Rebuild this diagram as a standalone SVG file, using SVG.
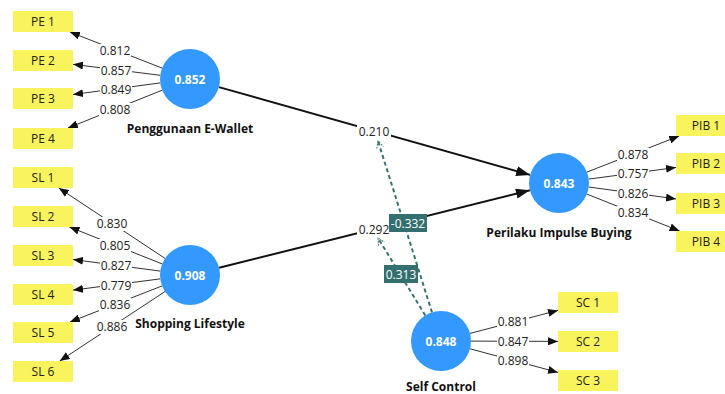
<svg xmlns="http://www.w3.org/2000/svg" width="725" height="394" viewBox="0 0 725 394">
<defs>
<marker id="ah" markerUnits="userSpaceOnUse" markerWidth="10" markerHeight="8" refX="10" refY="4" orient="auto"><path d="M0,0 L10,4 L0,8 z" fill="#111"/></marker>
<marker id="ahs" markerUnits="userSpaceOnUse" markerWidth="14" markerHeight="10" refX="14" refY="5" orient="auto"><path d="M0,0 L14,5 L0,10 z" fill="#111"/></marker>
<marker id="ahd" markerUnits="userSpaceOnUse" markerWidth="8" markerHeight="8" refX="7" refY="4" orient="auto"><path d="M0,0.5 L7,4 L0,7.5" fill="none" stroke="#3a7272" stroke-width="1" stroke-dasharray="2,1"/></marker>
<style>
.ind{fill:#F9F45E}
.it{font-family:"Open Sans","Noto Sans",sans-serif;font-size:12px;fill:#222;text-anchor:middle}
.lv{fill:#3399FF}
.lt{font-family:"Open Sans","Noto Sans",sans-serif;font-size:12px;font-weight:bold;fill:#fff;text-anchor:middle}
.nm{font-family:"Open Sans","Noto Sans",sans-serif;font-size:12px;font-weight:bold;fill:#111;text-anchor:middle}
.il{stroke:#333;stroke-width:1;fill:none;marker-end:url(#ah)}
.sl{stroke:#111;stroke-width:2;fill:none;marker-end:url(#ahs)}
.dl{stroke:#3a7272;stroke-width:2;fill:none;stroke-dasharray:4,3;marker-end:url(#ahd)}
.wb{fill:#fff}
.lb{font-family:"Open Sans","Noto Sans",sans-serif;font-size:12px;fill:#222;text-anchor:middle}
.mb{fill:#346f6f}
.mt{font-family:"Open Sans","Noto Sans",sans-serif;font-size:12px;fill:#fff;text-anchor:middle}
</style>
</defs>
<rect width="725" height="394" fill="#fff"/>
<g id="connectors">
<line class="il" x1="162.1" y1="68.1" x2="69.9" y2="32"/>
<line class="il" x1="160.2" y1="75.3" x2="73" y2="64.3"/>
<line class="il" x1="160.3" y1="82.9" x2="73" y2="94.5"/>
<line class="il" x1="162.2" y1="90.2" x2="67.9" y2="128"/>
<line class="il" x1="165" y1="258.4" x2="58.8" y2="188"/>
<line class="il" x1="162.1" y1="263.9" x2="69.4" y2="227"/>
<line class="il" x1="160.3" y1="271.1" x2="73" y2="259.5"/>
<line class="il" x1="160.2" y1="278.9" x2="73" y2="290.1"/>
<line class="il" x1="162.1" y1="285.9" x2="69.9" y2="322"/>
<line class="il" x1="165" y1="291.5" x2="59.7" y2="361"/>
<line class="il" x1="586.9" y1="172.1" x2="679.2" y2="136"/>
<line class="il" x1="588.7" y1="179.1" x2="676" y2="167.5"/>
<line class="il" x1="588.7" y1="187" x2="676" y2="198.9"/>
<line class="il" x1="586.9" y1="194.1" x2="679.6" y2="231"/>
<line class="il" x1="470" y1="333.4" x2="558" y2="310.4"/>
<line class="il" x1="471" y1="341.1" x2="558" y2="341.4"/>
<line class="il" x1="470" y1="348.8" x2="558" y2="372.4"/>
<line class="sl" x1="218.9" y1="87.1" x2="530.1" y2="174.9"/>
<line class="sl" x1="219.1" y1="267.7" x2="529.9" y2="190.3"/>
<line class="dl" x1="432" y1="312.4" x2="378" y2="141"/>
<line class="dl" x1="425.3" y1="315.4" x2="378" y2="238"/>
<g>
<rect class="wb" x="99" y="44" width="32" height="14"/><text class="lb" x="115" y="55">0.812</text>
<rect class="wb" x="100" y="64" width="32" height="14"/><text class="lb" x="116" y="75">0.857</text>
<rect class="wb" x="100" y="83" width="32" height="14"/><text class="lb" x="116" y="94">0.849</text>
<rect class="wb" x="99" y="103" width="32" height="14"/><text class="lb" x="115" y="114">0.808</text>
<rect class="wb" x="96" y="217" width="32" height="14"/><text class="lb" x="112" y="228">0.830</text>
<rect class="wb" x="99" y="239" width="32" height="14"/><text class="lb" x="115" y="250">0.805</text>
<rect class="wb" x="100" y="259" width="32" height="14"/><text class="lb" x="116" y="270">0.827</text>
<rect class="wb" x="100" y="279" width="32" height="14"/><text class="lb" x="116" y="290">0.779</text>
<rect class="wb" x="99" y="298" width="32" height="14"/><text class="lb" x="115" y="309">0.836</text>
<rect class="wb" x="96" y="320" width="32" height="14"/><text class="lb" x="112" y="331">0.886</text>
<rect class="wb" x="617" y="148" width="32" height="14"/><text class="lb" x="633" y="159">0.878</text>
<rect class="wb" x="617" y="167" width="32" height="14"/><text class="lb" x="633" y="178">0.757</text>
<rect class="wb" x="617" y="187" width="32" height="14"/><text class="lb" x="633" y="198">0.826</text>
<rect class="wb" x="617" y="206" width="32" height="14"/><text class="lb" x="633" y="217">0.834</text>
<rect class="wb" x="497" y="315" width="32" height="14"/><text class="lb" x="513" y="326">0.881</text>
<rect class="wb" x="497" y="335" width="32" height="14"/><text class="lb" x="513" y="346">0.847</text>
<rect class="wb" x="497" y="354" width="32" height="14"/><text class="lb" x="513" y="365">0.898</text>
<rect class="wb" x="357" y="125" width="34" height="14"/><text class="lb" x="374" y="136">0.210</text>
<rect class="wb" x="357" y="223" width="34" height="14"/><text class="lb" x="374" y="234">0.292</text>
<rect class="mb" x="389" y="214" width="38" height="18"/><text class="mt" x="408" y="227.5">-0.332</text>
<rect class="mb" x="384" y="265" width="34" height="18"/><text class="mt" x="401" y="278.5">0.313</text>
</g>
</g>
<g id="PE1"><rect class="ind" x="13" y="11" width="60" height="21"/><text class="it" x="43" y="26">PE 1</text></g>
<g id="PE2"><rect class="ind" x="13" y="50" width="60" height="21"/><text class="it" x="43" y="65">PE 2</text></g>
<g id="PE3"><rect class="ind" x="13" y="88" width="60" height="21"/><text class="it" x="43" y="103">PE 3</text></g>
<g id="PE4"><rect class="ind" x="13" y="128" width="60" height="21"/><text class="it" x="43" y="143">PE 4</text></g>
<g id="SL1"><rect class="ind" x="13" y="167" width="60" height="21"/><text class="it" x="43" y="182">SL 1</text></g>
<g id="SL2"><rect class="ind" x="13" y="206" width="60" height="21"/><text class="it" x="43" y="221">SL 2</text></g>
<g id="SL3"><rect class="ind" x="13" y="245" width="60" height="21"/><text class="it" x="43" y="260">SL 3</text></g>
<g id="SL4"><rect class="ind" x="13" y="284" width="60" height="21"/><text class="it" x="43" y="299">SL 4</text></g>
<g id="SL5"><rect class="ind" x="13" y="322" width="60" height="21"/><text class="it" x="43" y="337">SL 5</text></g>
<g id="SL6"><rect class="ind" x="13" y="361" width="60" height="21"/><text class="it" x="43" y="376">SL 6</text></g>
<g id="PIB1"><rect class="ind" x="676" y="115" width="60" height="21"/><text class="it" x="706" y="130">PIB 1</text></g>
<g id="PIB2"><rect class="ind" x="676" y="153" width="60" height="21"/><text class="it" x="706" y="168">PIB 2</text></g>
<g id="PIB3"><rect class="ind" x="676" y="193" width="60" height="21"/><text class="it" x="706" y="208">PIB 3</text></g>
<g id="PIB4"><rect class="ind" x="676" y="231" width="60" height="21"/><text class="it" x="706" y="246">PIB 4</text></g>
<g id="SC1"><rect class="ind" x="558" y="292" width="60" height="21"/><text class="it" x="588" y="307">SC 1</text></g>
<g id="SC2"><rect class="ind" x="558" y="331" width="60" height="21"/><text class="it" x="588" y="346">SC 2</text></g>
<g id="SC3"><rect class="ind" x="558" y="370" width="60" height="21"/><text class="it" x="588" y="385">SC 3</text></g>
<g id="PE"><circle class="lv" cx="190" cy="79" r="30"/><text class="lt" x="190" y="83.5">0.852</text><text class="nm" x="190" y="133">Penggunaan E-Wallet</text></g>
<g id="SL"><circle class="lv" cx="190" cy="275" r="30"/><text class="lt" x="190" y="279.5">0.908</text><text class="nm" x="190" y="328">Shopping Lifestyle</text></g>
<g id="PIB"><circle class="lv" cx="559" cy="183" r="30"/><text class="lt" x="559" y="187.5">0.843</text><text class="nm" x="559" y="237">Perilaku Impulse Buying</text></g>
<g id="SC"><circle class="lv" cx="441" cy="341" r="30"/><text class="lt" x="441" y="345.5">0.848</text><text class="nm" x="441" y="391">Self Control</text></g>
</svg>
